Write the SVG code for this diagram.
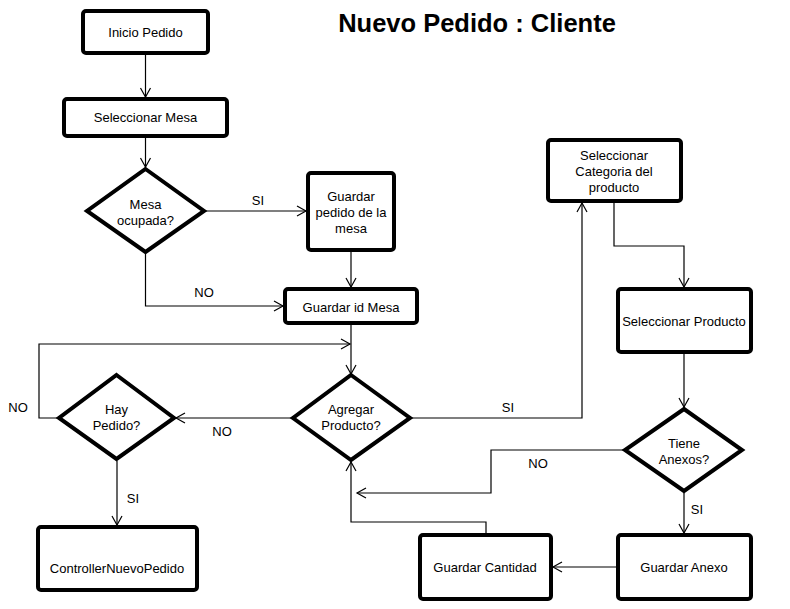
<svg xmlns="http://www.w3.org/2000/svg" width="790" height="609" viewBox="0 0 790 609">
<style>
.box{fill:#fff;stroke:#000;stroke-width:4;stroke-linejoin:round}
.dia{fill:#fff;stroke:#000;stroke-width:4;stroke-linejoin:miter}
.t{font-family:"Liberation Sans",Arial,sans-serif;font-size:13px;fill:#000;text-anchor:middle}
.lbl{font-family:"Liberation Sans",Arial,sans-serif;font-size:13px;fill:#000;text-anchor:middle}
.title{font-family:"Liberation Sans",Arial,sans-serif;font-size:25.5px;font-weight:bold;fill:#000;text-anchor:middle}
.c{fill:none;stroke:#000;stroke-width:1.2}
</style>
<defs>
<marker id="ah" markerUnits="userSpaceOnUse" markerWidth="12" markerHeight="12" refX="10" refY="6" orient="auto" overflow="visible">
<path d="M1,1 L10,6 L1,11" fill="none" stroke="#000" stroke-width="1.2"/>
</marker>
</defs>
<rect width="790" height="609" fill="#fff"/>
<text class="title" x="477" y="32">Nuevo Pedido : Cliente</text>
<g id="connectors">
<path class="c" d="M145.5,55 L145.5,97" marker-end="url(#ah)"/>
<path class="c" d="M145.5,138 L145.5,167" marker-end="url(#ah)"/>
<path class="c" d="M206,211 L306,211" marker-end="url(#ah)"/>
<path class="c" d="M351,252 L351,287" marker-end="url(#ah)"/>
<path class="c" d="M145.5,254 L145.5,306 L283,306" marker-end="url(#ah)"/>
<path class="c" d="M351,325 L351,374" marker-end="url(#ah)"/>
<path class="c" d="M291,418 L176,418" marker-end="url(#ah)"/>
<path class="c" d="M57,418 L39,418 L39,344 L350,344" marker-end="url(#ah)"/>
<path class="c" d="M117,461 L117,525" marker-end="url(#ah)"/>
<path class="c" d="M412,418 L582,418 L582,203" marker-end="url(#ah)"/>
<path class="c" d="M614,203 L614,246 L684,246 L684,287" marker-end="url(#ah)"/>
<path class="c" d="M684,354 L684,407" marker-end="url(#ah)"/>
<path class="c" d="M623,450 L491,450 L491,493 L357,493" marker-end="url(#ah)"/>
<path class="c" d="M684,493 L684,533" marker-end="url(#ah)"/>
<path class="c" d="M616,567 L553,567" marker-end="url(#ah)"/>
<path class="c" d="M486,533 L486,522 L351,522 L351,462" marker-end="url(#ah)"/>
<text class="lbl" x="258" y="205">SI</text>
<text class="lbl" x="204" y="297">NO</text>
<text class="lbl" x="222" y="436">NO</text>
<text class="lbl" x="18" y="412">NO</text>
<text class="lbl" x="133" y="503">SI</text>
<text class="lbl" x="508" y="412">SI</text>
<text class="lbl" x="538" y="468">NO</text>
<text class="lbl" x="697" y="514">SI</text>
</g>
<g id="inicio"><rect class="box" x="83" y="11" width="125" height="42" rx="3"/><text class="t" x="145.5" y="37">Inicio Pedido</text></g>
<g id="selMesa"><rect class="box" x="64" y="99" width="163" height="37" rx="3"/><text class="t" x="145.5" y="122">Seleccionar Mesa</text></g>
<g id="mesaOcupada"><polygon class="dia" points="145.5,169 204,211 145.5,252 87,211"/><text class="t" x="145.5" y="209">Mesa</text><text class="t" x="145.5" y="225">ocupada?</text></g>
<g id="guardarPedido"><rect class="box" x="308" y="173" width="86" height="77" rx="3"/><text class="t" x="351" y="201">Guardar</text><text class="t" x="351" y="217">pedido de la</text><text class="t" x="351" y="233">mesa</text></g>
<g id="guardarIdMesa"><rect class="box" x="285" y="289" width="132" height="34" rx="3"/><text class="t" x="351" y="312">Guardar id Mesa</text></g>
<g id="agregarProducto"><polygon class="dia" points="351,375 410,418 351,460 293,418"/><text class="t" x="351" y="414">Agregar</text><text class="t" x="351" y="430">Producto?</text></g>
<g id="hayPedido"><polygon class="dia" points="116.5,375 174,418 116.5,459 59,418"/><text class="t" x="116.5" y="414">Hay</text><text class="t" x="116.5" y="430">Pedido?</text></g>
<g id="controller"><rect class="box" x="38" y="527" width="159" height="63" rx="3"/><text class="t" x="117" y="573">ControllerNuevoPedido</text></g>
<g id="selCategoria"><rect class="box" x="548" y="140" width="133" height="61" rx="3"/><text class="t" x="614" y="160">Seleccionar</text><text class="t" x="614" y="176">Categoria del</text><text class="t" x="614" y="192">producto</text></g>
<g id="selProducto"><rect class="box" x="618" y="289" width="133" height="63" rx="3"/><text class="t" x="684" y="326">Seleccionar Producto</text></g>
<g id="tieneAnexos"><polygon class="dia" points="684,409 742,450 684,491 625,450"/><text class="t" x="684" y="448">Tiene</text><text class="t" x="684" y="464">Anexos?</text></g>
<g id="guardarAnexo"><rect class="box" x="618" y="535" width="133" height="64" rx="3"/><text class="t" x="684" y="572">Guardar Anexo</text></g>
<g id="guardarCantidad"><rect class="box" x="420" y="535" width="131" height="64" rx="3"/><text class="t" x="485" y="572">Guardar Cantidad</text></g>
</svg>
